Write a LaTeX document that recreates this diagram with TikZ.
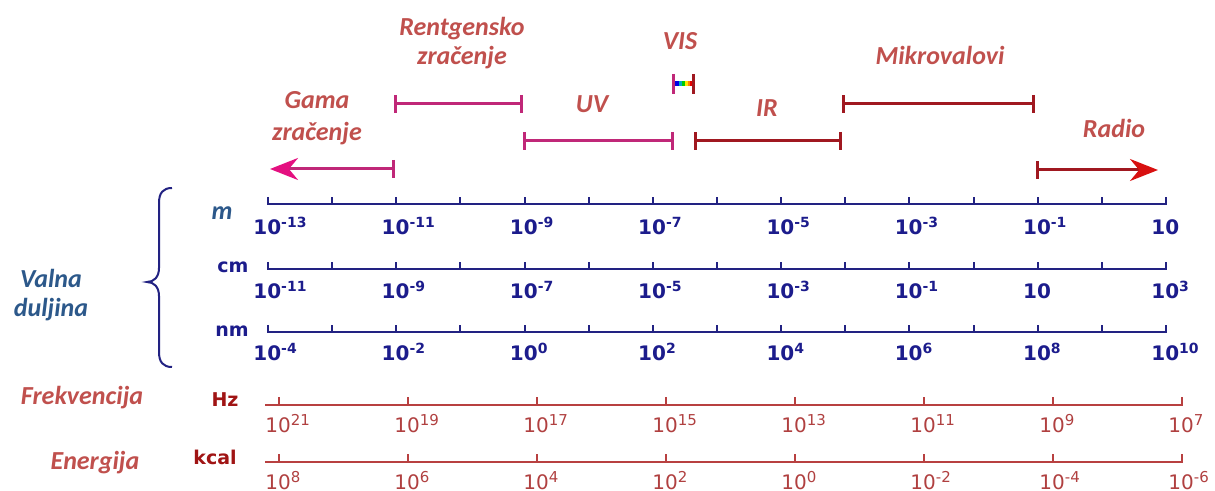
\documentclass[tikz,border=0pt]{standalone}
\usepackage{fontspec}
\setmainfont{Carlito}
\newfontfamily\verdfont{DejaVu Sans}
\usetikzlibrary{arrows.meta}
\definecolor{bandtxt}{RGB}{192,80,77}
\definecolor{wavetxt}{RGB}{44,88,138}
\definecolor{navyax}{RGB}{34,34,130}
\definecolor{navylab}{RGB}{28,28,140}
\definecolor{freqax}{RGB}{184,64,64}
\definecolor{freqlabc}{RGB}{176,64,64}
\definecolor{unitred}{RGB}{160,20,20}
\definecolor{magbarc}{RGB}{192,40,120}
\definecolor{maghead}{RGB}{228,16,128}
\definecolor{redbarc}{RGB}{160,24,32}
\definecolor{redhead}{RGB}{216,16,16}
\newcommand{\wlab}[1]{10\raisebox{3.8pt}{\fontsize{7}{7}\selectfont #1}}
\newcommand{\flab}[1]{10\raisebox{3.2pt}{\fontsize{7.5}{7.5}\selectfont #1}}
\begin{document}
\begin{tikzpicture}[x=0.5pt,y=-0.5pt,
  bandlabel/.style={font=\fontsize{13}{14.5}\selectfont\bfseries\itshape, text=bandtxt, align=center, inner sep=0pt},
  qtylabel/.style={font=\fontsize{13}{14.5}\selectfont\bfseries\itshape, inner sep=0pt, align=center},
  unitlabel/.style={font=\verdfont\bfseries\fontsize{9.5}{10}\selectfont, inner sep=0pt, anchor=base},
  wavelab/.style={font=\verdfont\bfseries\fontsize{10}{11}\selectfont, text=navylab, inner sep=0pt, anchor=base west},
  freqlab/.style={font=\verdfont\fontsize{10}{11}\selectfont, text=freqlabc, inner sep=0pt, anchor=base west},
  waveaxis/.style={draw=navyax, line width=1pt},
  freqaxis/.style={draw=freqax, line width=1pt},
  magbar/.style={draw=magbarc, line width=1.5pt},
  redbar/.style={draw=redbarc, line width=1.5pt},
  endbars/.style={{Bar[width=9pt]}-{Bar[width=9pt]}},
]
\useasboundingbox (0,0) rectangle (1215,491);

% ---- band labels ----
\node[bandlabel] (rtg) at (462,43) {Rentgensko\\zračenje};
\node[bandlabel, font=\fontsize{13}{16}\selectfont\bfseries\itshape] (gam) at (317,118) {Gama\\zračenje};
\node[bandlabel, anchor=base] (vis) at (680,50) {VIS};
\node[bandlabel, anchor=base] (uv) at (592,113) {UV};
\node[bandlabel, anchor=base] (ir) at (767,117) {IR};
\node[bandlabel, anchor=base] (mik) at (940,65) {Mikrovalovi};
\node[bandlabel, anchor=base] (rad) at (1114,138) {Radio};

% ---- band bars ----
\coordinate (rtL) at (394,104); \coordinate (rtR) at (523,104);
\coordinate (uvL) at (523,141); \coordinate (uvR) at (674,141);
\coordinate (irL) at (694,141); \coordinate (irR) at (842,141);
\coordinate (mkL) at (842,104); \coordinate (mkR) at (1035,104);
\coordinate (gaL) at (270,169); \coordinate (gaR) at (395,169);
\coordinate (raL) at (1036,170); \coordinate (raR) at (1158,170);
\draw[magbar, endbars] (rtL) -- (rtR);
\draw[magbar, endbars] (uvL) -- (uvR);
\draw[redbar, endbars] (irL) -- (irR);
\draw[redbar, endbars] (mkL) -- (mkR);
\draw[magbar, {Stealth[length=14pt,width=11pt,color=maghead]}-{Bar[width=9pt]}] (gaL) -- (gaR);
\draw[redbar, {Bar[width=9pt]}-{Stealth[length=14pt,width=11pt,color=redhead]}] (raL) -- (raR);

% ---- VIS rainbow ----
\fill[blue!90!black] (675,81.5) rectangle (678.5,86.5);
\fill[cyan!70!green] (678.5,81.5) rectangle (681.5,86.5);
\fill[green!80!black] (681.5,81.5) rectangle (684.5,86.5);
\fill[yellow!90!orange] (684.5,81.5) rectangle (687.5,86.5);
\fill[orange] (687.5,81.5) rectangle (690,86.5);
\fill[red!90!black] (690,81.5) rectangle (692,86.5);
\coordinate (vsL1) at (673,74); \coordinate (vsL2) at (673,94);
\coordinate (vsR1) at (693,74); \coordinate (vsR2) at (693,94);
\draw[magbar] (vsL1) -- (vsL2);
\draw[redbar] (vsR1) -- (vsR2);

% ---- wavelength brace and labels ----
\node[qtylabel, text=wavetxt] (valna) at (51,295) {Valna\\duljina};
\draw[draw=navyax, line width=1pt] (172,188) .. controls (163,188) and (159,193) .. (159,203) -- (159,268) .. controls (159,277) and (154,282) .. (147,282) .. controls (154,282) and (159,287) .. (159,296) -- (159,352) .. controls (159,362) and (163,367) .. (172,367);
\node[qtylabel, text=wavetxt, anchor=base] (um) at (222,220) {m};
\node[unitlabel, text=navylab] (ucm) at (233,273) {cm};
\node[unitlabel, text=navylab] (unm) at (232,337) {nm};

% ---- wavelength axes ----
\foreach \nm/\y in {m/204,cm/269,nm/332}{
  \coordinate (\nm-a) at (268,\y);
  \coordinate (\nm-b) at (1166,\y);
  \draw[waveaxis] (\nm-a) ++(0,-7) -- (\nm-a) -- (\nm-b) -- ++(0,-7);
  \foreach \i in {1,...,13} \draw[waveaxis] ({268+64.14*\i},\y) -- ++(0,-7);
}
\foreach \e [count=\j from 0] in {-13,-11,-9,-7,-5,-3,-1,{}}
  \node[wavelab] (lm\j) at ({268+128.28*\j-15},235) {\wlab{\e}};
\foreach \e [count=\j from 0] in {-11,-9,-7,-5,-3,-1,{},3}
  \node[wavelab] (lcm\j) at ({268+128.28*\j-15},299) {\wlab{\e}};
\foreach \e [count=\j from 0] in {-4,-2,0,2,4,6,8,10}
  \node[wavelab] (lnm\j) at ({268+128.28*\j-15},361) {\wlab{\e}};

% ---- frequency and energy ----
\node[qtylabel, text=bandtxt, anchor=base] (frek) at (82,405) {Frekvencija};
\node[qtylabel, text=bandtxt, anchor=base] (ener) at (95,469) {Energija};
\node[unitlabel, text=unitred] (uhz) at (225,407) {Hz};
\node[unitlabel, text=unitred] (ukc) at (215,465) {kcal};
\foreach \nm/\y in {hz/405,kc/462}{
  \coordinate (\nm-a) at (265,\y);
  \coordinate (\nm-b) at (1182,\y);
  \draw[freqaxis] (\nm-a) -- (\nm-b) -- ++(0,-8);
  \foreach \i in {0,...,6} \draw[freqaxis] ({279+129*\i},\y) -- ++(0,-8);
}
\foreach \e [count=\j from 0] in {21,19,17,15,13,11,9,7}
  \node[freqlab] (lhz\j) at ({279+129*\j-14},432) {\flab{\e}};
\foreach \e [count=\j from 0] in {8,6,4,2,0,-2,-4,-6}
  \node[freqlab] (lkc\j) at ({279+129*\j-14},489) {\flab{\e}};
\end{tikzpicture}
\end{document}
